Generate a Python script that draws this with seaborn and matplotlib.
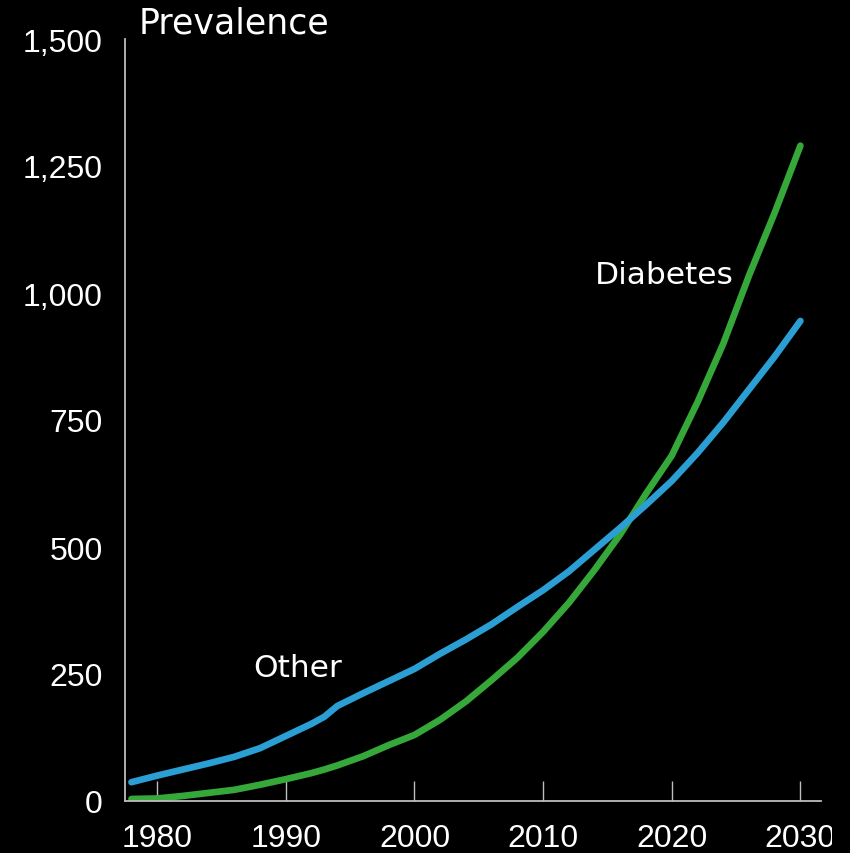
import matplotlib
matplotlib.use("Agg")
import matplotlib.pyplot as plt
from matplotlib.patches import Rectangle
from matplotlib.ticker import FuncFormatter
import numpy as np
import pandas as pd
import seaborn as sns

# Prevalence estimates by year
years = [1978, 1980, 1982, 1984, 1986, 1988, 1990, 1992, 1993, 1994, 1996, 1998,
         2000, 2002, 2004, 2006, 2008, 2010, 2012, 2014, 2016, 2018, 2020, 2022,
         2024, 2026, 2028, 2030]
diabetes = [4, 5, 10, 16, 22, 32, 43, 55, 62, 70, 88, 110,
            130, 160, 196, 238, 282, 333, 390, 455, 525, 605, 680, 785,
            900, 1034, 1158, 1290]
other = [37, 50, 62, 74, 87, 104, 128, 152, 166, 187, 212, 236,
         260, 290, 318, 348, 382, 415, 452, 495, 538, 583, 630, 685,
         745, 810, 875, 945]

groups = ["Diabetes", "Other"]
x_ticks = [1980, 1990, 2000, 2010, 2020, 2030]
y_ticks = [0, 250, 500, 750, 1000, 1250, 1500]

df = pd.DataFrame({
    "year": years * 2,
    "prevalence": diabetes + other,
    "group": [groups[0]] * len(years) + [groups[1]] * len(years),
})

sns.set_style("dark", rc={
    "axes.facecolor": "black",
    "figure.facecolor": "black",
    "axes.edgecolor": "#BDBDBD",
    "axes.grid": False,
    "text.color": "white",
    "xtick.color": "#BDBDBD",
    "ytick.color": "#BDBDBD",
})
plt.rcParams["font.family"] = ["Liberation Sans", "DejaVu Sans"]

fig = plt.figure(figsize=(8.5, 8.54), dpi=100, facecolor="black")
ax = fig.add_axes([125 / 850, 52 / 854, (821 - 125) / 850, (802 - 40) / 854])

palette = {"Diabetes": "#36A83A", "Other": "#2B9ED4"}
sns.lineplot(data=df, x="year", y="prevalence", hue="group", hue_order=groups,
             palette=palette, linewidth=4.8, legend=False, ax=ax,
             solid_capstyle="round")

ax.set_xlim(1977.5, 2031.6)
ax.set_ylim(0, 1500)
ax.set_xticks(x_ticks)
ax.set_yticks(y_ticks)
ax.yaxis.set_major_formatter(FuncFormatter(lambda v, p: f"{int(v):,}"))
ax.set_xlabel("")
ax.set_ylabel("")

for side in ("top", "right"):
    ax.spines[side].set_visible(False)
for side in ("left", "bottom"):
    ax.spines[side].set_color("#BDBDBD")
    ax.spines[side].set_linewidth(1.3)

ax.tick_params(axis="x", bottom=True, direction="in", length=14.5, width=1.0,
               color="#BDBDBD", labelcolor="white", labelsize=23, pad=16)
ax.tick_params(axis="y", left=False, length=0, labelcolor="white", labelsize=23, pad=16)

ax.text(1990.9, 262, "Other", ha="center", va="center", color="white",
        fontsize=22.5, family="DejaVu Sans")
ax.text(2019.4, 1037, "Diabetes", ha="center", va="center", color="white",
        fontsize=22.5, family="DejaVu Sans")

fig.text(139 / 850, 1 - 23 / 854, "Prevalence", ha="left", va="center",
         color="white", fontsize=25, family="DejaVu Sans")

# Right margin mask
fig.add_artist(Rectangle((832 / 850, 0), 18 / 850, 1, transform=fig.transFigure,
                         facecolor="black", edgecolor="none", zorder=10))

fig.savefig("out.png", dpi=100, facecolor="black")
